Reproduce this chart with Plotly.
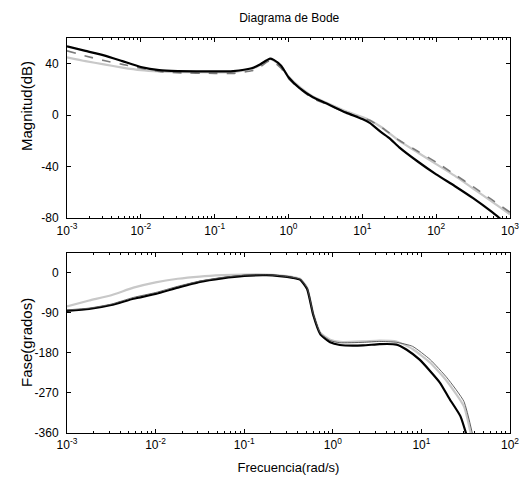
import numpy as np
import plotly.graph_objects as go
from plotly.subplots import make_subplots

# ---- Magnitude data (log10 of frequency, dB) ----
mag_logw_black = [-3, -2.75, -2.5, -2.25, -2, -1.75, -1.5, -1.0, -0.75, -0.5, -0.4, -0.3, -0.25, -0.2, -0.1, 0, 0.15, 0.33, 0.5, 0.78, 1.0, 1.1, 1.25, 1.37, 1.5, 1.75, 2.0, 2.25, 2.5, 2.75, 2.87]
mag_black = [53.5, 50, 46.5, 42, 37.5, 35, 34.3, 34, 34.3, 36.5, 39, 42.5, 44, 43, 38.5, 29.5, 21, 14, 9.5, 2, -3, -6, -13, -18, -25, -36, -46, -55, -64.5, -75, -80.5]

mag_logw_gray = [-3, -2.75, -2.5, -2.25, -2, -1.75, -1.5, -1, -0.75, -0.5, -0.4, -0.3, -0.25, -0.2, -0.1, 0, 0.15, 0.33, 0.5, 0.78, 1.0, 1.1, 1.25, 1.5, 1.75, 2.0, 2.25, 2.5, 2.75, 3]
mag_gray = [45, 42, 39.5, 37, 35, 34, 33.5, 33.3, 33.5, 36, 38.5, 42, 43.5, 42.5, 38, 30, 22, 14.5, 10, 3, -1.5, -4, -9, -20, -29, -38, -47, -57, -67, -77]
mag_dash = [50, 46, 42.5, 39.5, 36.5, 34, 33, 32.5, 32.5, 34.5, 37, 41, 42.5, 41.5, 36.5, 28.5, 20.5, 13, 9, 2, -2, -4, -9, -19.5, -28, -36.5, -46, -55.5, -65.5, -75.5]

# ---- Phase data (log10 of frequency, degrees) ----
ph_logw_black = [-3, -2.75, -2.5, -2.25, -2, -1.75, -1.5, -1.25, -1, -0.75, -0.6, -0.45, -0.37, -0.29, -0.22, -0.14, -0.03, 0.08, 0.34, 0.53, 0.72, 0.83, 0.98, 1.1, 1.21, 1.32, 1.44, 1.51]
ph_black = [-85, -81, -72, -58, -47, -33, -20, -12, -6.5, -5, -7, -11, -15, -36, -95, -138, -156, -162, -163, -160, -161, -172, -195, -221, -247, -284, -322, -365]

ph_logw_gray = [-3, -2.75, -2.5, -2.25, -2, -1.75, -1.5, -1.25, -1, -0.75, -0.6, -0.45, -0.37, -0.29, -0.22, -0.14, -0.03, 0.08, 0.34, 0.53, 0.72, 0.9, 1.1, 1.29, 1.48, 1.56]
ph_gray = [-75, -62, -50, -33, -21, -13, -8, -5, -3.5, -3.5, -5.5, -9, -13, -33, -92, -135, -150, -155, -154, -152, -154, -171, -202, -244, -300, -365]

ph_logw_thin = [-3, -2.75, -2.5, -2.25, -2, -1.75, -1.5, -1.25, -1, -0.75, -0.6, -0.45, -0.37, -0.29, -0.22, -0.14, -0.03, 0.08, 0.34, 0.53, 0.72, 0.9, 1.1, 1.29, 1.48, 1.58]
ph_thin = [-83, -79, -70, -55, -44, -30, -18, -10, -5, -4, -6, -10, -14, -34, -93, -136, -152, -157, -156, -154, -156, -165, -195, -236, -289, -365]

mag_ticks = [40, 0, -40, -80]
ph_ticks = [0, -90, -180, -270, -360]
top_decades = [-3, -2, -1, 0, 1, 2, 3]
bot_decades = [-3, -2, -1, 0, 1, 2]

FONT = "Liberation Sans, Arial, sans-serif"
FS = 12

def w(lst):
    return [10 ** v for v in lst]

fig = make_subplots(rows=2, cols=1, vertical_spacing=0.0)

def line(color, width, dash="solid"):
    return dict(color=color, width=width, dash=dash, shape="spline", smoothing=0.5)

fig.add_trace(go.Scatter(x=w(mag_logw_gray), y=mag_gray, mode="lines",
                         line=line("#c8c8c8", 2.2)), row=1, col=1)
fig.add_trace(go.Scatter(x=w(mag_logw_gray), y=mag_dash, mode="lines",
                         line=line("#7a7a7a", 1.6, "dash")), row=1, col=1)
fig.add_trace(go.Scatter(x=w(mag_logw_black), y=mag_black, mode="lines",
                         line=line("#000000", 2.2)), row=1, col=1)

fig.add_trace(go.Scatter(x=w(ph_logw_gray), y=ph_gray, mode="lines",
                         line=line("#c8c8c8", 2.2)), row=2, col=1)
fig.add_trace(go.Scatter(x=w(ph_logw_black), y=ph_black, mode="lines",
                         line=line("#000000", 2.2)), row=2, col=1)
fig.add_trace(go.Scatter(x=w(ph_logw_thin), y=ph_thin, mode="lines",
                         line=line("#505050", 0.9)), row=2, col=1)

def pow_label(d):
    return "10<sup>%d</sup>" % d

def minor_vals(decs):
    vals = []
    for d in decs[:-1]:
        for m in range(2, 10):
            vals.append(m * 10 ** d)
    return vals

axis_common = dict(showline=True, linecolor="black", linewidth=1, mirror="ticks",
                   ticks="inside", ticklen=4, tickcolor="black", showgrid=False,
                   zeroline=False, automargin=False,
                   tickfont=dict(family=FONT, size=FS, color="black"))

title_font = dict(family=FONT, size=FS, color="black")

fig.update_xaxes(type="log", range=[-3, 3], tickmode="array",
                 tickvals=[10 ** d for d in top_decades],
                 ticktext=[pow_label(d) for d in top_decades],
                 minor=dict(ticks="inside", ticklen=2, tickcolor="black",
                            tickmode="array", tickvals=minor_vals(top_decades)),
                 ticklabelstandoff=1,
                 **axis_common, row=1, col=1)
fig.update_xaxes(type="log", range=[-3, 2], tickmode="array",
                 tickvals=[10 ** d for d in bot_decades],
                 ticktext=[pow_label(d) for d in bot_decades],
                 minor=dict(ticks="inside", ticklen=2, tickcolor="black",
                            tickmode="array", tickvals=minor_vals(bot_decades)),
                 ticklabelstandoff=1,
                 title=dict(text="Frecuencia(rad/s)", font=dict(family=FONT, size=13, color="black"), standoff=11),
                 **axis_common, row=2, col=1)
fig.update_yaxes(range=[-80, 60], tickmode="array", tickvals=mag_ticks,
                 ticktext=[str(v) for v in mag_ticks], ticklabelstandoff=5,
                 **axis_common, row=1, col=1)
fig.update_yaxes(range=[-360, 45], tickmode="array", tickvals=ph_ticks,
                 ticktext=[str(v) for v in ph_ticks], ticklabelstandoff=5,
                 **axis_common, row=2, col=1)

# y-axis titles placed like the original (MATLAB places them slightly off-centre)
PLOT_L, PLOT_W, PLOT_B, PLOT_H = 67, 443, 433, 395
def px_to_paper(xp, yp):
    return (xp - PLOT_L) / PLOT_W, (PLOT_B - yp) / PLOT_H

for text, (xp, yp) in [("Magnitud(dB)", (26, 106)), ("Fase(grados)", (26, 343))]:
    xx, yy = px_to_paper(xp, yp)
    fig.add_annotation(text=text, xref="paper", yref="paper", x=xx, y=yy,
                       xanchor="center", yanchor="middle", textangle=-90,
                       showarrow=False, font=dict(family=FONT, size=15, color="black"))

fig.update_layout(
    width=523, height=484,
    margin=dict(l=67, r=13, t=38, b=51),
    paper_bgcolor="white", plot_bgcolor="white",
    showlegend=False,
    font=dict(family=FONT, size=FS, color="black"),
    title=dict(text="Diagrama de Bode", x=0.553, xanchor="center",
               yref="container", y=1 - 18 / 484, yanchor="middle",
               font=title_font),
)
fig.layout.yaxis.domain = [0.544, 1.0]
fig.layout.yaxis2.domain = [0.0, 0.4557]
fig.layout.xaxis.domain = [0, 1]
fig.layout.xaxis2.domain = [0, 1]

fig.write_html("out.html", config={"displayModeBar": False, "staticPlot": True},
               post_script="document.body.style.margin='0';document.body.style.overflow='hidden';")
